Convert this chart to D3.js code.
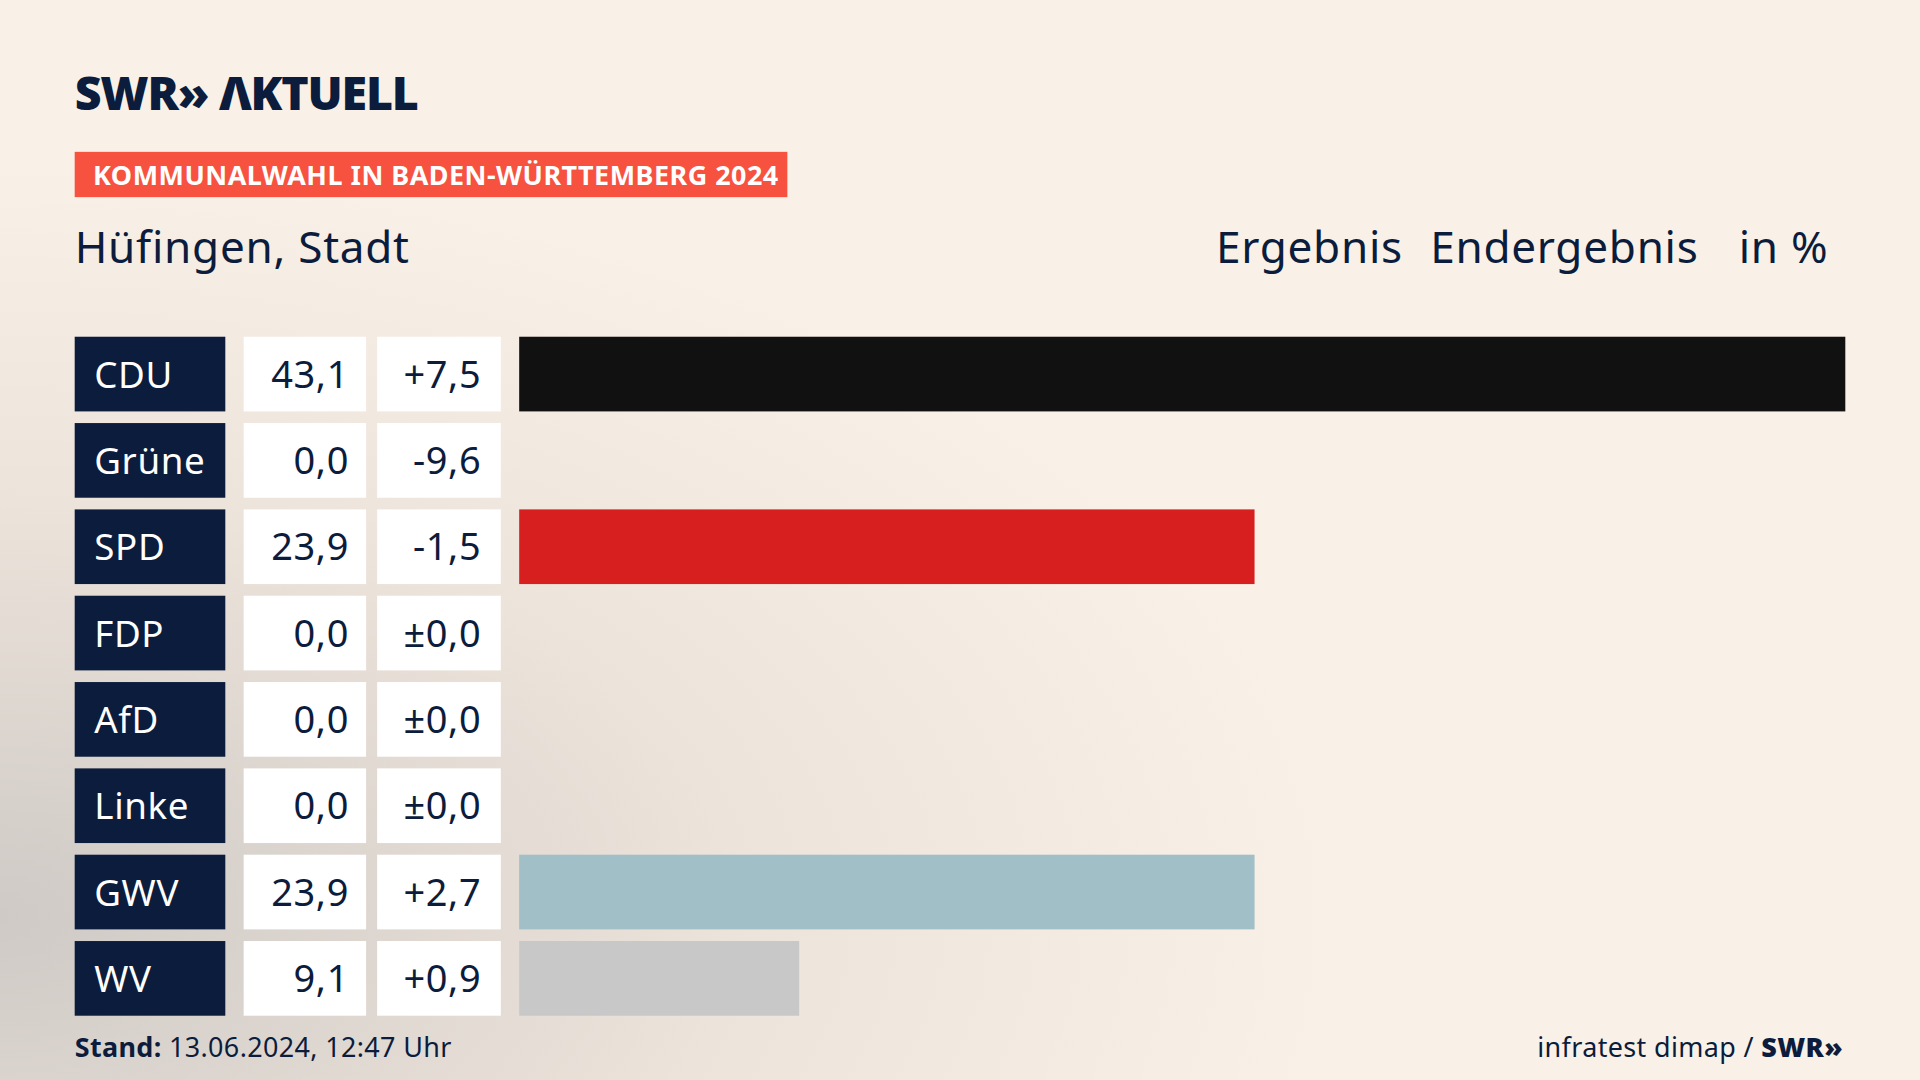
<!DOCTYPE html>
<html><head><meta charset="utf-8">
<script src="https://cdn.jsdelivr.net/npm/d3@7"></script>
<style>html,body{margin:0;padding:0;overflow:hidden;background:#f9f1e7}</style>
</head><body>
<script>
const parties = ["CDU","Grüne","SPD","FDP","AfD","Linke","GWV","WV"];
const results = [43.1,0.0,23.9,0.0,0.0,0.0,23.9,9.1];
const changes = ["+7,5","-9,6","-1,5","±0,0","±0,0","±0,0","+2,7","+0,9"];
const colors = ["#111111","#4f9a3a","#d71f1f","#f5d200","#1a8ad1","#b0165a","#a0bfc7","#c8c8c8"];

const W=1568,H=882;
const svg=d3.select("body").append("svg").attr("width",1920).attr("height",1080).attr("viewBox",`0 0 ${W} ${H}`);
const defs=svg.append("defs");
const rg=defs.append("radialGradient").attr("id","bg").attr("cx","0%").attr("cy","85%").attr("r","70%");
rg.append("stop").attr("offset","0%").attr("stop-color","#cfcac6");
rg.append("stop").attr("offset","55%").attr("stop-color","#ece3da");
rg.append("stop").attr("offset","100%").attr("stop-color","#f9f1e7");
svg.append("rect").attr("width",W).attr("height",H).attr("fill","#f9f1e7");
svg.append("rect").attr("width",W).attr("height",H).attr("fill","url(#bg)");
const F="'Noto Sans', sans-serif";
const navy="#0c1c3c";
svg.append("text").attr("x",61).attr("y",90).attr("font-family",F).attr("font-weight",900).attr("font-size",38).attr("fill",navy).attr("letter-spacing",-1).text("SWR» ΛKTUELL");
svg.append("rect").attr("x",61).attr("y",124).attr("width",582).attr("height",37).attr("fill","#f7513f");
svg.append("text").attr("x",76).attr("y",151).attr("font-family",F).attr("font-weight",700).attr("font-size",22).attr("letter-spacing",0.4).attr("fill","#fff").text("KOMMUNALWAHL IN BADEN-WÜRTTEMBERG 2024");
svg.append("text").attr("x",61).attr("y",215).attr("font-family",F).attr("font-size",36).attr("letter-spacing",0.6).attr("fill",navy).text("Hüfingen, Stadt");
[["Ergebnis",993],["Endergebnis",1168],["in %",1420]].forEach(([t,xx])=>
  svg.append("text").attr("x",xx).attr("y",215).attr("font-family",F).attr("font-size",36).attr("letter-spacing",0.6).attr("fill",navy).text(t));

const y=d3.scaleBand().domain(parties).range([275,829.5]).paddingInner(0.135).paddingOuter(0);
const x=d3.scaleLinear().domain([0,d3.max(results)]).range([424,1507]);
const g=svg.selectAll("g.row").data(parties).join("g");
g.append("rect").attr("x",61).attr("y",d=>y(d)).attr("width",123).attr("height",y.bandwidth()).attr("fill",navy);
g.append("text").attr("x",77).attr("y",d=>y(d)+y.bandwidth()/2+11).attr("font-family",F).attr("font-size",30).attr("letter-spacing",0.5).attr("fill","#fff").text(d=>d);
g.append("rect").attr("x",199).attr("y",d=>y(d)).attr("width",100).attr("height",y.bandwidth()).attr("fill","#fff");
g.append("text").attr("x",285).attr("text-anchor","end").attr("y",d=>y(d)+y.bandwidth()/2+11).attr("font-family",F).attr("font-size",31).attr("letter-spacing",0.5).attr("fill",navy).text((d,i)=>results[i].toFixed(1).replace(".",","));
g.append("rect").attr("x",308).attr("y",d=>y(d)).attr("width",101).attr("height",y.bandwidth()).attr("fill","#fff");
g.append("text").attr("x",393).attr("text-anchor","end").attr("y",d=>y(d)+y.bandwidth()/2+11).attr("font-family",F).attr("font-size",31).attr("letter-spacing",0.5).attr("fill",navy).text((d,i)=>changes[i]);
g.append("rect").attr("x",x(0)).attr("y",d=>y(d)).attr("width",(d,i)=>x(results[i])-x(0)).attr("height",y.bandwidth()).attr("fill",(d,i)=>colors[i]);

const ft=svg.append("text").attr("x",61).attr("y",863).attr("font-family",F).attr("font-size",22).attr("letter-spacing",0.3).attr("fill",navy);
ft.append("tspan").attr("font-weight",700).text("Stand:");
ft.append("tspan").text(" 13.06.2024, 12:47 Uhr");
const fr=svg.append("text").attr("x",1505).attr("y",863).attr("text-anchor","end").attr("font-family",F).attr("font-size",22).attr("letter-spacing",0.3).attr("fill",navy);
fr.append("tspan").text("infratest dimap / ");
fr.append("tspan").attr("font-weight",900).text("SWR»");
</script>
</body></html>
